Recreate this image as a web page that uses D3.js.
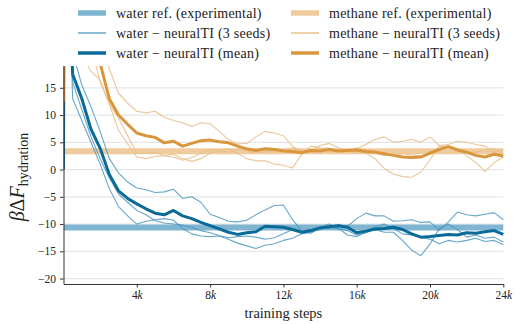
<!DOCTYPE html>
<html>
<head>
<meta charset="utf-8">
<script src="https://cdn.jsdelivr.net/npm/d3@7"></script>
<style>
body { margin: 0; background: #fff; }
svg { display: block; font-family: "Liberation Serif", "DejaVu Serif", serif; }
</style>
</head>
<body>
<div id="chart"></div>
<script>
// training steps at which the curves were sampled
const steps = [0, 50, 500, 1000, 1500, 2000, 2500, 3000, 3500, 4000, 4500, 5000, 5500, 6000, 6500, 7000, 7500, 8000, 8500, 9000, 9500, 10000, 10500, 11000, 11500, 12000, 12500, 13000, 13500, 14000, 14500, 15000, 15500, 16000, 16500, 17000, 17500, 18000, 18500, 19000, 19500, 20000, 20500, 21000, 21500, 22000, 22500, 23000, 23500, 24000];

// reference values (experimental)
const waterRef = -10.65;
const methaneRef = 3.35;

// water - neuralTI
const waterMean = [0, 60, 17.5, 13.0, 7.4, 3.9, -0.9, -3.9, -5.3, -6.3, -7.2, -8.0, -8.3, -7.5, -8.5, -9.0, -9.7, -10.3, -10.9, -11.5, -11.9, -11.6, -11.4, -10.4, -10.5, -10.6, -11.0, -11.5, -11.2, -10.7, -10.5, -10.3, -10.6, -11.6, -11.3, -10.9, -10.8, -10.6, -11.0, -11.8, -12.4, -12.3, -12.1, -11.9, -12.0, -11.6, -11.7, -11.4, -11.2, -11.9];
const waterSeedA = [60, 60, 21.5, 15.5, 11.5, 7, 2, -0.6, -2.3, -3.4, -3.7, -4.2, -4.1, -3.6, -5.3, -5.0, -6.0, -8.2, -8.8, -9.5, -9.6, -9.3, -8.3, -7.4, -6.6, -6.5, -9.2, -11.3, -11.0, -10.6, -10.8, -10.2, -10.4, -9.0, -8.0, -8.5, -8.5, -9.5, -9.4, -9.2, -9.7, -9.6, -11.2, -9.6, -7.8, -8.3, -8.5, -8.2, -7.9, -9.2];
const waterSeedB = [60, 60, 13, 9, 5, 1, -3.5, -6.8, -8.5, -10.0, -9.5, -9.2, -9.0, -9.3, -10.8, -11.8, -12.2, -12.3, -12.2, -12.8, -13.5, -14.0, -14.5, -13.9, -13.6, -13.0, -12.6, -11.8, -11.5, -11.0, -10.6, -10.9, -11.2, -12.0, -11.6, -11.0, -11.5, -11.5, -13.0, -14.8, -15.8, -13.7, -10.8, -10.0, -11.0, -12.4, -12.0, -12.6, -12.4, -13.3];
const waterSeedC = [60, 60, 16, 11, 6, 2, -1.5, -4.5, -6, -7.5, -8.3, -9.4, -9.8, -10, -10.2, -10.6, -11.2, -11.6, -12.1, -12.5, -12.3, -12.2, -12.4, -12.8, -12.5, -11.8, -11.0, -11.4, -11.7, -10.6, -10.0, -10.8, -12.0, -12.3, -11.5, -10.5, -10.0, -10.8, -11.8, -12.0, -12.4, -12.8, -13.6, -13.0, -13.3, -13.0, -12.6, -13.2, -13.0, -13.8];

// methane - neuralTI
const methaneMean = [12.5, 60, 50, 40, 28, 19.5, 13, 10, 8.3, 6.7, 6.2, 5.9, 4.9, 5.2, 4.3, 4.8, 5.3, 5.4, 5.1, 4.9, 4.3, 3.8, 3.5, 3.8, 3.7, 3.4, 3.3, 3.1, 3.5, 3.4, 3.7, 3.4, 3.5, 3.6, 3.3, 3.2, 2.9, 2.6, 2.3, 2.2, 2.3, 3.0, 3.7, 4.2, 3.6, 3.2, 2.6, 2.3, 2.8, 2.5];
const methaneSeedA = [60, 60, 60, 45, 33, 24, 18.5, 14, 12.2, 10.7, 10.4, 10.7, 9.6, 9.0, 8.6, 7.9, 8.6, 8.4, 7.0, 5.5, 4.7, 4.8, 6.0, 7.0, 6.7, 6.2, 4.3, 3.3, 3.6, 4.4, 4.8, 4.0, 3.4, 3.8, 4.6, 5.5, 6.0, 5.0, 5.2, 5.5, 5.0, 6.0, 4.4, 4.6, 5.2, 5.0, 4.6, 4.3, 3.2, 3.7];
const methaneSeedB = [60, 60, 40, 21, 18, 16.5, 12, 7.2, 4.7, 2.3, 2.0, 2.4, 2.6, 2.8, 2.0, 1.5, 2.0, 3.0, 3.5, 3.8, 3.0, 2.0, 1.6, 1.6, 1.0, 0.8, 0.3, 2.8, 4.3, 4.0, 3.9, 3.6, 3.5, 4.0, 3.0, 2.0, 0.2, -0.8, -1.3, -1.4, -0.5, 1.8, 4.3, 4.2, 3.2, 3.0, 3.2, 3.6, 3.8, 2.8];
const methaneSeedC = [60, 60, 60, 35, 23, 16, 12, 9.5, 6.2, 3.0, 3.0, 3.2, 2.5, 2.3, 1.7, 2.2, 3.0, 3.6, 3.5, 3.2, 3.8, 3.5, 3.0, 3.3, 3.4, 3.6, 4.0, 3.6, 3.2, 3.8, 3.2, 3.4, 3.6, 3.0, 3.2, 3.0, 2.6, 2.8, 2.9, 2.7, 2.5, 2.8, 3.3, 4.3, 3.8, 2.5, 1.3, -0.4, 1.3, 2.3];

const yTicks = [-20, -15, -10, -5, 0, 5, 10, 15];
const xTicks = [4000, 8000, 12000, 16000, 20000, 24000];

const legendLabels = [
    "water ref. (experimental)", "water \u2212 neuralTI (3 seeds)", "water \u2212 neuralTI (mean)",
    "methane ref. (experimental)", "methane \u2212 neuralTI (3 seeds)", "methane \u2212 neuralTI (mean)"
];

const col = {
    waterRef: "#80b5d2", waterSeed: "#4b97c2", waterMean: "#0b6b98",
    methaneRef: "#efcb9e", methaneSeed: "#e9c08c", methaneMean: "#d9963c"
};

const width = 515, height = 324;

const svg = d3.select("#chart")
    .append("svg")
    .attr("width", width)
    .attr("height", height);

const x = d3.scaleLinear().domain([0, 24000]).range([63.5, 503.3]);
const y = d3.scaleLinear().domain([-21, 19]).range([284, 66]);

// gridlines
svg.append("g")
    .selectAll("line")
    .data(yTicks)
    .join("line")
    .attr("x1", x(0))
    .attr("x2", x(24000))
    .attr("y1", d => y(d))
    .attr("y2", d => y(d))
    .attr("stroke", "#e6e6e6")
    .attr("stroke-width", 1.3);

svg.append("clipPath")
    .attr("id", "plot-clip")
    .append("rect")
    .attr("x", x(0))
    .attr("y", y(19))
    .attr("width", x(24000) - x(0) + 1)
    .attr("height", y(-21) - y(19));

const plot = svg.append("g").attr("clip-path", "url(#plot-clip)");

// reference bands
[[waterRef, col.waterRef], [methaneRef, col.methaneRef]].forEach(([v, c]) => {
    plot.append("line")
        .attr("x1", x(0))
        .attr("x2", x(24000))
        .attr("y1", y(v))
        .attr("y2", y(v))
        .attr("stroke", c)
        .attr("stroke-width", 6);
});

const line = d3.line()
    .x((d, i) => x(steps[i]))
    .y(d => y(d));

const curves = [
    [waterSeedA, col.waterSeed, 1.1, 0.85],
    [waterSeedB, col.waterSeed, 1.1, 0.85],
    [waterSeedC, col.waterSeed, 1.1, 0.85],
    [methaneSeedA, col.methaneSeed, 1.1, 0.9],
    [methaneSeedB, col.methaneSeed, 1.1, 0.9],
    [methaneSeedC, col.methaneSeed, 1.1, 0.9],
    [waterMean, col.waterMean, 3, 1],
    [methaneMean, col.methaneMean, 3, 1]
];

plot.selectAll("path.curve")
    .data(curves)
    .join("path")
    .attr("class", "curve")
    .attr("d", d => line(d[0]))
    .attr("fill", "none")
    .attr("stroke", d => d[1])
    .attr("stroke-width", d => d[2])
    .attr("stroke-opacity", d => d[3])
    .attr("stroke-linejoin", "round");

// axes
const xAxis = svg.append("g")
    .attr("transform", `translate(0, ${y(-21)})`)
    .call(d3.axisBottom(x).tickValues(xTicks).tickSize(3.5).tickSizeOuter(0).tickPadding(3));
xAxis.selectAll("text")
    .text(null)
    .each(function(d) {
        const t = d3.select(this);
        t.append("tspan").text(d / 1000);
        t.append("tspan").attr("font-style", "italic").text("k");
    });

const yAxis = svg.append("g")
    .attr("transform", `translate(${x(0)}, 0)`)
    .call(d3.axisLeft(y).tickValues(yTicks).tickSize(3.5).tickSizeOuter(0).tickPadding(4));

[xAxis, yAxis].forEach(a => {
    a.select(".domain").attr("stroke", "#333").attr("stroke-width", 1);
    a.selectAll(".tick line").attr("stroke", "#333");
    a.selectAll("text")
        .attr("font-family", "'Liberation Serif', serif")
        .attr("font-size", 11.5)
        .attr("fill", "#222");
});

// axis labels
svg.append("text")
    .attr("x", (x(0) + x(24000)) / 2)
    .attr("y", 318)
    .attr("text-anchor", "middle")
    .attr("font-size", 14.5)
    .attr("fill", "#222")
    .text("training steps");

const yl = svg.append("text")
    .attr("transform", "translate(24, 177) rotate(-90)")
    .attr("text-anchor", "middle")
    .attr("font-size", 20)
    .attr("fill", "#222");
yl.append("tspan").attr("font-style", "italic").text("\u03B2");
yl.append("tspan").text("\u0394");
yl.append("tspan").attr("font-style", "italic").text("F");
yl.append("tspan").attr("font-size", 14).attr("dy", 4).text("hydration");

// legend
const legendItems = [
    [legendLabels[0], col.waterRef, 5.5, 0, 0],
    [legendLabels[1], col.waterSeed, 1.3, 0, 1],
    [legendLabels[2], col.waterMean, 3.5, 0, 2],
    [legendLabels[3], col.methaneRef, 5.5, 1, 0],
    [legendLabels[4], col.methaneSeed, 1.5, 1, 1],
    [legendLabels[5], col.methaneMean, 3.5, 1, 2]
];
const colX = [78, 291];
const rowY = [13, 33, 53];

const legend = svg.append("g")
    .selectAll("g")
    .data(legendItems)
    .join("g")
    .attr("transform", d => `translate(${colX[d[3]]}, ${rowY[d[4]]})`);
legend.append("line")
    .attr("x1", 0)
    .attr("x2", 28)
    .attr("stroke", d => d[1])
    .attr("stroke-width", d => d[2]);
legend.append("text")
    .attr("x", 38)
    .attr("y", 4.5)
    .attr("font-size", 14)
    .attr("letter-spacing", 0.25)
    .attr("fill", "#222")
    .text(d => d[0]);
</script>
</body>
</html>
